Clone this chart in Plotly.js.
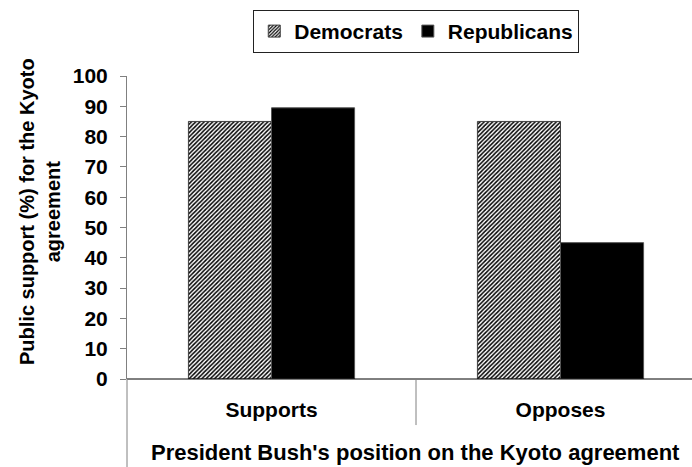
<!DOCTYPE html>
<html>
<head>
<meta charset="utf-8">
<script src="https://cdn.plot.ly/plotly-3.0.1.min.js"></script>
<style>html,body{margin:0;padding:0;background:#fff}#chart{width:692px;height:467px}</style>
</head>
<body>
<div id="chart"></div>
<script>
var categories = ["Supports", "Opposes"];
var democrats = [85, 85];
var republicans = [89.5, 45];
var seriesNames = ["Democrats", "Republicans"];
var yTicks = [0, 10, 20, 30, 40, 50, 60, 70, 80, 90, 100];
var xTitle = "President Bush's position on the Kyoto agreement";
var yTitle = "Public support (%) for the Kyoto<br>agreement";

var FONT = "Liberation Sans, Arial, sans-serif";

var traces = [
  {
    type: "bar", name: seriesNames[0], x: categories, y: democrats,
    marker: {
      color: "#ffffff",
      pattern: {shape: "/", fgcolor: "#000000", bgcolor: "#ffffff", size: 3, solidity: 0.5},
      line: {color: "#404040", width: 1}
    }
  },
  {
    type: "bar", name: seriesNames[1], x: categories, y: republicans,
    marker: {color: "#000000", line: {color: "#555555", width: 1}}
  }
];

var layout = {
  width: 692, height: 467,
  margin: {l: 127, r: 0, t: 76, b: 88, pad: 0},
  paper_bgcolor: "#ffffff", plot_bgcolor: "#ffffff",
  font: {family: FONT, size: 21, color: "#000", weight: 700},
  barmode: "group", bargap: 0.425, bargroupgap: 0,
  showlegend: true,
  legend: {
    orientation: "h", x: 0.512, xanchor: "center", y: 1.218, yanchor: "top",
    bordercolor: "#222", borderwidth: 1, bgcolor: "#fff",
    font: {family: FONT, size: 21, weight: 700}, itemwidth: 30, traceorder: "normal"
  },
  xaxis: {
    type: "category", range: [-0.5, 1.455], showgrid: false, zeroline: false,
    showline: false, ticks: "", ticklabelstandoff: 16,
    tickfont: {family: FONT, size: 21, weight: 700}, fixedrange: true
  },
  yaxis: {
    range: [0, 100], tickvals: yTicks, showgrid: false, zeroline: false,
    showline: true, linecolor: "#808080", linewidth: 1,
    ticks: "outside", ticklen: 6, tickcolor: "#808080", ticklabelstandoff: 8,
    tickfont: {family: FONT, size: 21, weight: 700}, fixedrange: true
  },
  shapes: [
    {type: "line", xref: "paper", yref: "paper", x0: 0, x1: 1, y0: 0, y1: 0, line: {color: "#000", width: 1}},
    {type: "line", xref: "paper", yref: "paper", x0: 0, x1: 0, y0: -0.3, y1: 0, line: {color: "#808080", width: 1}},
    {type: "line", xref: "x", yref: "paper", x0: 0.5, x1: 0.5, y0: -0.152, y1: 0, line: {color: "#808080", width: 1}}
  ],
  annotations: [
    {text: xTitle, xref: "paper", yref: "paper", x: (415 - 127) / 565, y: -(452 - 379) / 303,
     xanchor: "center", yanchor: "middle", showarrow: false,
     font: {family: FONT, size: 22, weight: 700}},
    {text: yTitle, xref: "paper", yref: "paper", x: (40 - 127) / 565, y: (379 - 212) / 303,
     xanchor: "center", yanchor: "middle", showarrow: false, textangle: -90,
     font: {family: FONT, size: 20, weight: 700}}
  ]
};

Plotly.newPlot("chart", traces, layout, {displayModeBar: false, staticPlot: true});
</script>
</body>
</html>
